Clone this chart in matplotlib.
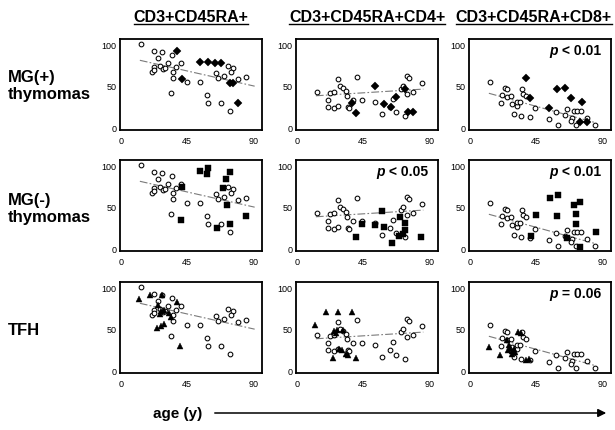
import numpy as np
import matplotlib
matplotlib.use('Agg')
import matplotlib.pyplot as plt
from matplotlib.patches import FancyArrowPatch
from matplotlib.lines import Line2D

plt.rcParams['font.family'] = ['Liberation Sans', 'DejaVu Sans']

col_titles = ['CD3+CD45RA+', 'CD3+CD45RA+CD4+', 'CD3+CD45RA+CD8+']
row_titles = ['MG(+)\nthymomas', 'MG(-)\nthymomas', 'TFH']
x_ticks = [0, 45, 90]
y_ticks = [0, 50, 100]
x_axis_label = 'age (y)'

# ---- control subjects (open circles), one set per column ----
ctrl_age_c1 = [13.5, 22.8, 28.3, 25.1, 35.0, 31.9, 41.0, 22.8, 26.7, 21.0, 22.4, 29.0, 30.1,
               37.5, 35.7, 35.7, 44.8, 34.1, 53.9, 64.5, 65.9, 70.4, 73.1, 76.5, 74.9, 79.4,
               85.1, 58.4, 59.5, 68.1, 74.2]
ctrl_val_c1 = [99.6, 91.8, 90.2, 83.6, 86.3, 76.9, 77.7, 73.0, 73.8, 66.6, 69.0, 69.9, 71.4,
               73.0, 66.0, 58.9, 54.2, 41.7, 54.2, 65.2, 59.3, 61.2, 73.2, 71.2, 66.0, 58.1,
               60.5, 38.6, 29.6, 29.6, 19.7]

ctrl_age_c2 = [13.5, 21.0, 21.5, 25.0, 28.0, 22.8, 25.0, 28.2, 29.6, 31.7, 33.3, 34.4, 34.6,
               35.5, 38.0, 40.7, 44.5, 53.4, 57.9, 63.5, 65.3, 67.3, 70.8, 72.4, 74.6, 76.6,
               74.7, 79.1, 84.8, 73.8]
ctrl_val_c2 = [42.5, 32.7, 24.8, 23.7, 26.0, 41.7, 42.5, 58.5, 49.5, 47.1, 43.2, 37.8, 24.0,
               22.9, 33.5, 61.0, 33.5, 30.0, 16.0, 24.0, 34.5, 18.0, 46.5, 50.0, 62.0, 59.5,
               40.5, 42.5, 53.0, 13.5]

ctrl_age_c3 = [13.6, 21.7, 23.7, 25.5, 25.1, 28.2, 21.0, 28.9, 31.8, 32.2, 34.0, 35.6, 36.2,
               38.5, 44.5, 30.0, 34.9, 41.2, 54.1, 58.6, 60.2, 65.8, 64.7, 70.7, 72.9, 75.8,
               69.8, 68.5, 72.5, 79.6, 84.8]
ctrl_val_c3 = [54.2, 38.5, 47.5, 46.3, 36.9, 37.8, 29.9, 27.6, 26.0, 30.7, 31.0, 46.3, 40.5,
               37.4, 22.9, 15.8, 14.2, 13.1, 10.3, 18.2, 3.3, 22.2, 15.0, 20.1, 20.1, 20.1,
               11.1, 7.9, 3.3, 11.1, 3.3]

# ---- control regression lines (end points) ----
fit_age_c1 = [13, 91]
fit_val_c1 = [80.5, 49.5]
fit_age_c2 = [13, 86]
fit_val_c2 = [38, 46]
fit_age_c3 = [13, 85]
fit_val_c3 = [41, 6]

# ---- MG(+) thymomas (filled diamonds) ----
mgp_age_c1 = [38.2, 41.4, 53.9, 59.1, 64.0, 68.1, 74.2, 76.5, 79.5]
mgp_val_c1 = [91.8, 58.1, 78.5, 78.5, 77.0, 77.7, 53.0, 53.0, 29.0]
mgp_age_c2 = [37.7, 40.6, 53.4, 59.0, 64.1, 67.3, 73.5, 75.8, 79.1]
mgp_val_c2 = [28.8, 17.5, 50.0, 27.6, 24.5, 36.8, 46.0, 18.5, 18.5]
mgp_age_c3 = [38.5, 41.2, 54.1, 59.5, 64.7, 68.5, 76.3, 75.0, 79.6]
mgp_val_c3 = [59.3, 35.8, 23.8, 45.6, 47.7, 35.5, 30.0, 6.2, 6.6]

# ---- MG(-) thymomas (filled squares) ----
mgn_age_c1 = [54.0, 59.4, 58.6, 74.0, 71.4, 69.5, 72.1, 41.3, 40.7, 65.5, 74.5, 85.2]
mgn_val_c1 = [93.4, 96.1, 89.1, 91.4, 83.7, 72.0, 52.5, 74.0, 34.6, 24.9, 28.8, 38.9]
mgn_age_c2 = [40.6, 44.5, 53.4, 58.0, 59.0, 65.0, 69.7, 70.5, 72.0, 73.5, 73.5, 84.3]
mgn_val_c2 = [14.0, 29.0, 28.0, 45.0, 26.0, 7.0, 15.0, 38.0, 17.0, 22.0, 30.0, 14.0]
mgn_age_c3 = [41.7, 45.0, 54.7, 60.2, 59.2, 66.0, 70.7, 72.0, 72.5, 75.2, 75.0, 85.8]
mgn_val_c3 = [15.5, 40.0, 60.0, 64.0, 39.0, 13.0, 52.5, 41.0, 29.5, 55.5, 2.0, 20.0]

# ---- TFH (filled triangles) ----
tfh_age_c1 = [12.5, 20.0, 28.0, 38.0, 25.0, 27.5, 29.5, 32.5, 34.0, 26.5, 24.5, 27.5, 29.5, 40.5]
tfh_val_c1 = [86.0, 90.5, 90.0, 82.0, 78.0, 71.0, 73.0, 69.0, 64.0, 68.0, 51.5, 53.5, 55.5, 29.5]
tfh_age_c2 = [12.5, 20.0, 28.0, 37.5, 25.0, 27.5, 31.5, 26.5, 28.5, 31.0, 33.5, 35.0, 24.5, 40.5]
tfh_val_c2 = [55.0, 70.0, 70.0, 70.0, 47.0, 48.0, 48.0, 45.0, 26.0, 24.0, 20.0, 18.0, 15.0, 15.0]
tfh_age_c3 = [13.0, 20.3, 25.0, 26.5, 27.3, 26.0, 29.0, 30.0, 28.5, 32.5, 34.8, 38.0, 40.5, 31.0]
tfh_val_c3 = [28.5, 18.0, 36.0, 31.0, 27.5, 25.0, 23.0, 26.0, 20.0, 46.5, 45.0, 12.5, 13.5, 22.0]

p_texts = {(0, 2): '< 0.01', (1, 1): '< 0.05', (1, 2): '< 0.01', (2, 2): '= 0.06'}

ctrl_age = [ctrl_age_c1, ctrl_age_c2, ctrl_age_c3]
ctrl_val = [ctrl_val_c1, ctrl_val_c2, ctrl_val_c3]
fit_age = [fit_age_c1, fit_age_c2, fit_age_c3]
fit_val = [fit_val_c1, fit_val_c2, fit_val_c3]
groups = [
    ([mgp_age_c1, mgp_age_c2, mgp_age_c3], [mgp_val_c1, mgp_val_c2, mgp_val_c3], 'D', 4.0),
    ([mgn_age_c1, mgn_age_c2, mgn_age_c3], [mgn_val_c1, mgn_val_c2, mgn_val_c3], 's', 3.8),
    ([tfh_age_c1, tfh_age_c2, tfh_age_c3], [tfh_val_c1, tfh_val_c2, tfh_val_c3], '^', 4.6),
]

W, H = 615, 431
fig = plt.figure(figsize=(W / 100, H / 100), dpi=100)
fig.patch.set_facecolor('white')

col_left = [120, 296, 469]
row_top = [40, 161, 283]
ax_w, ax_h = 142, 91

for r in range(3):
    for c in range(3):
        ax = fig.add_axes([col_left[c] / W, 1 - (row_top[r] + ax_h) / H, ax_w / W, ax_h / H])
        ax.set_xlim(-0.5, 96)
        ax.set_ylim(-3, 106)
        ax.plot(fit_age[c], fit_val[c], color='#7a7a7a', lw=0.8,
                linestyle=(0, (7, 2, 1.5, 2)), zorder=1)
        ax.plot(ctrl_age[c], ctrl_val[c], linestyle='none', marker='o', ms=3.4,
                mfc='white', mec='black', mew=0.75, zorder=2)
        ga, gv, mk, ms = groups[r]
        ax.plot(ga[c], gv[c], linestyle='none', marker=mk, ms=ms,
                mfc='black', mec='black', mew=0.3, zorder=3)
        ax.set_xticks(x_ticks)
        ax.set_yticks(y_ticks)
        ax.tick_params(length=0, labelsize=6.5, pad=2.5)
        ax.tick_params(axis='x', pad=4)
        for s in ax.spines.values():
            s.set_linewidth(1.3)
        if (r, c) in p_texts:
            t = ax.text(0.93, 0.80, ' ' + p_texts[(r, c)], transform=ax.transAxes,
                        ha='right', va='bottom', fontsize=10, fontweight='bold')
            ax.annotate('p', xy=(0, 0), xycoords=t, ha='right', va='bottom',
                        fontsize=10, fontweight='bold', fontstyle='italic')

# column headers (underlined)
header_y = 1 - 18 / H
headers = []
header_pos = [(col_left[0] + ax_w / 2, 'center'), (col_left[1] + ax_w / 2, 'center'),
              (612, 'right')]
for c in range(3):
    hx, ha = header_pos[c]
    headers.append(fig.text(hx / W, header_y, col_titles[c], ha=ha, va='center',
                            fontsize=11.5, fontweight='bold'))

# row labels
row_label_y = [86, 209, 331]
for r in range(3):
    fig.text(8 / W, 1 - row_label_y[r] / H, row_titles[r], ha='left', va='center',
             fontsize=12, fontweight='bold', linespacing=1.15)

# x-axis label and arrow
fig.text(153 / W, 1 - 414 / H, x_axis_label, ha='left', va='center', fontsize=11,
         fontweight='bold')
fig.add_artist(FancyArrowPatch((212 / W, 1 - 414 / H), (609 / W, 1 - 414 / H),
                               transform=fig.transFigure, arrowstyle='-|>',
                               mutation_scale=12, lw=1.1, color='black'))

fig.canvas.draw()
renderer = fig.canvas.get_renderer()
inv = fig.transFigure.inverted()
for t in headers:
    bb = t.get_window_extent(renderer)
    (x0, y0), (x1, y1) = inv.transform([[bb.x0, bb.y0], [bb.x1, bb.y1]])
    fig.add_artist(Line2D([x0, x1], [y0 + 0.002, y0 + 0.002], transform=fig.transFigure,
                          color='black', lw=1.0))

fig.savefig('out.png', dpi=100, facecolor='white')
